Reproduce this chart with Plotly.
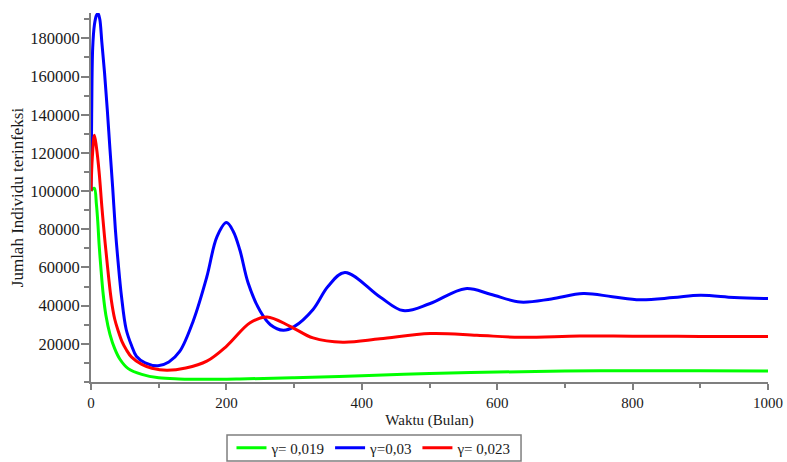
import plotly.graph_objects as go

# Time in months and number of infected individuals for three gamma values
t_g019 = [0, 2, 5, 8, 10, 12, 15, 18, 22, 28, 35, 43, 55, 75, 100, 130,
          170, 220, 300, 400, 500, 600, 700, 800, 900, 1000]
v_g019 = [100000, 101000, 101500, 93000, 84000, 72000, 58000, 46000, 35000,
          25000, 17500, 11800, 7000, 4000, 2200, 1600, 1400, 1600, 2200,
          3300, 4400, 5200, 5700, 5900, 5900, 5800]

t_g03 = [0, 1, 2.5, 5, 8, 10.5, 13, 16, 20, 24, 28, 32, 36, 40, 45, 52, 60,
         67, 80, 99, 115, 131, 151, 171, 186, 200, 210, 220, 232, 250, 265,
         284, 300, 328, 350, 375, 427, 461, 500, 553, 590, 634, 680, 727,
         770, 811, 860, 900, 950, 1000]
v_g03 = [100000, 140000, 175000, 187000, 192000, 193000, 190000, 178000,
         162000, 143000, 122000, 102000, 80000, 63000, 45000, 27500, 19000,
         13500, 10000, 8500, 10500, 16000, 32000, 55000, 76000, 83500, 79000,
         69000, 52000, 37000, 30000, 27100, 29000, 38000, 50000, 57400,
         44500, 37400, 41000, 48900, 46000, 41900, 43500, 46300, 44700, 43100,
         44200, 45400, 44300, 43700]

t_g023 = [0, 2, 5, 8, 12, 16, 20, 22, 26, 30, 35, 40, 46, 52, 60, 75, 90,
          112, 140, 171, 200, 235, 260, 294, 328, 372, 427, 501, 570, 634,
          722, 800, 900, 1000]
v_g023 = [100000, 118000, 129300, 123000, 110000, 92000, 76000, 69000, 55000,
          43000, 33000, 27000, 21000, 17000, 13000, 9200, 7200, 6100, 7300,
          10900, 18700, 31000, 34100, 29200, 23100, 20800, 22600, 25400, 24500,
          23400, 24100, 24000, 23900, 23900]

series = [
    ("γ= 0,019", t_g019, v_g019, "#00ff00"),
    ("γ=0,03", t_g03, v_g03, "#0000ff"),
    ("γ= 0,023", t_g023, v_g023, "#ff0000"),
]

x_ticks = [0, 200, 400, 600, 800, 1000]
y_ticks = [20000, 40000, 60000, 80000, 100000, 120000, 140000, 160000, 180000]

FONT = "Liberation Serif"
AXIS_GRAY = "#7f7f7f"
TEXT = "#1a1a1a"

fig = go.Figure()
for name, t, v, color in series:
    fig.add_trace(go.Scatter(
        x=t, y=v, mode="lines", name=name,
        line=dict(color=color, width=3, shape="spline", smoothing=1.0),
    ))

fig.update_layout(
    width=787, height=462,
    margin=dict(l=91, r=19, t=13, b=80, autoexpand=False),
    paper_bgcolor="white", plot_bgcolor="white",
    font=dict(family=FONT, color=TEXT, size=15),
    showlegend=True,
    legend=dict(
        orientation="h", x=0.418, xanchor="center", y=-0.179,
        yanchor="middle", borderwidth=0, bgcolor="rgba(0,0,0,0)",
        font=dict(family=FONT, size=15, color=TEXT),
        itemwidth=30, tracegroupgap=0,
    ),
    # compact frame drawn around the legend row
    shapes=[dict(
        type="rect", xref="paper", yref="paper",
        x0=0.2009, x1=0.6352, y0=-0.2141, y1=-0.1436,
        line=dict(color=AXIS_GRAY, width=1.5), fillcolor="rgba(0,0,0,0)",
        layer="below",
    )],
)

fig.update_xaxes(
    range=[0, 1000], showgrid=False, zeroline=False, automargin=False,
    showline=True, linecolor=AXIS_GRAY, linewidth=2,
    tickmode="array", tickvals=x_ticks, ticktext=[str(v) for v in x_ticks],
    ticks="outside", ticklen=6, tickwidth=1.5, tickcolor=AXIS_GRAY,
    minor=dict(tickmode="linear", tick0=0, dtick=100, ticks="outside",
               ticklen=4, tickwidth=1.5, tickcolor=AXIS_GRAY, showgrid=False),
    tickfont=dict(family=FONT, size=15, color=TEXT),
    title=dict(text="Waktu (Bulan)", font=dict(family=FONT, size=15,
                                               color=TEXT), standoff=4),
)

fig.update_yaxes(
    range=[0, 193300], showgrid=False, zeroline=False, automargin=False,
    showline=True, linecolor=AXIS_GRAY, linewidth=2,
    tickmode="array", tickvals=y_ticks, ticktext=[str(v) for v in y_ticks],
    ticks="outside", ticklen=8, tickwidth=1.5, tickcolor=AXIS_GRAY,
    ticklabelstandoff=-2,
    minor=dict(tickmode="linear", tick0=0, dtick=10000, ticks="outside",
               ticklen=5, tickwidth=1.5, tickcolor=AXIS_GRAY, showgrid=False),
    tickfont=dict(family=FONT, size=16.5, color=TEXT),
    title=dict(text="Jumlah Individu terinfeksi",
               font=dict(family=FONT, size=17, color=TEXT), standoff=2),
)

fig.write_html("out.html")
